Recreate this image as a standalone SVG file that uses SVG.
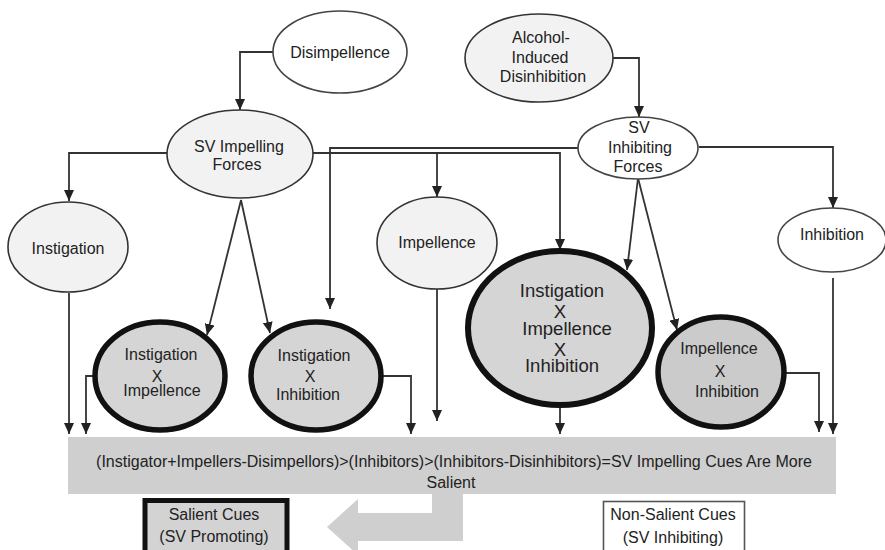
<svg xmlns="http://www.w3.org/2000/svg" width="885" height="550" viewBox="0 0 885 550">
<defs>
<style>
.lt{fill:#f2f2f2;stroke:#333;stroke-width:1.6}
.wh{fill:#ffffff;stroke:#444;stroke-width:1.6}
.bold{fill:#d5d5d5;stroke:#111;stroke-width:5.5}
.bold2{fill:#cbcbcb;stroke:#111;stroke-width:5.5}
text{font-family:"Liberation Sans",Arial,sans-serif;font-size:16px;fill:#222;text-anchor:middle}
.big{font-size:18.5px}
.c{fill:none;stroke:#333;stroke-width:1.8;marker-end:url(#ah)}
.n{fill:none;stroke:#333;stroke-width:1.8}
</style>
<marker id="ah" markerUnits="userSpaceOnUse" markerWidth="12" markerHeight="10" refX="11" refY="5" orient="auto">
<path d="M0,0 L11,5 L0,10 z" fill="#222"/>
</marker>
</defs>
<rect width="885" height="550" fill="#ffffff"/>

<g id="connectors">
<path class="c" d="M273,52 H240 V110"/>
<path class="c" d="M167,153 H69 V201"/>
<path class="c" d="M69,293 V434"/>
<path class="c" d="M95,376 H86 V434"/>
<path class="c" d="M241,200 L207,335"/>
<path class="c" d="M241,200 L270,333"/>
<path class="c" d="M381,376 H411 V434"/>
<path class="c" d="M313,153 H560 V250"/>
<path class="c" d="M437,153 V197"/>
<path class="c" d="M578,148 H330 V309"/>
<path class="c" d="M437,289 V421"/>
<path class="c" d="M613,58 H639 V117"/>
<path class="c" d="M638,178 L627,270"/>
<path class="c" d="M638,178 L677,330"/>
<path class="c" d="M699,147 H833 V208"/>
<path class="c" d="M833,278 V434"/>
<path class="c" d="M560,407 V434"/>
<path class="c" d="M785,373 H819 V432"/>
</g>

<g id="disimpellence">
<ellipse class="wh" cx="340" cy="52" rx="67" ry="41"/>
<text x="340" y="58">Disimpellence</text>
</g>

<g id="alcohol">
<ellipse class="lt" cx="539" cy="58" rx="74" ry="44"/>
<text x="541" y="43">Alcohol-</text>
<text x="540" y="63">Induced</text>
<text x="543" y="82">Disinhibition</text>
</g>

<g id="sv-impelling">
<ellipse class="lt" cx="240" cy="154" rx="73" ry="44"/>
<text x="239" y="152">SV Impelling</text>
<text x="237" y="170">Forces</text>
</g>

<g id="sv-inhibiting">
<ellipse class="wh" cx="638" cy="148" rx="60" ry="31"/>
<text x="639" y="133">SV</text>
<text x="640" y="153">Inhibiting</text>
<text x="638" y="172">Forces</text>
</g>

<g id="instigation">
<ellipse class="lt" cx="68" cy="247" rx="60" ry="45"/>
<text x="68" y="254">Instigation</text>
</g>

<g id="impellence">
<ellipse class="lt" cx="437" cy="243" rx="60" ry="46"/>
<text x="437" y="248">Impellence</text>
</g>

<g id="inhibition">
<ellipse class="wh" cx="832" cy="240" rx="54" ry="32"/>
<text x="832" y="240">Inhibition</text>
</g>

<g id="instigation-x-impellence">
<ellipse class="bold" cx="160" cy="376" rx="65" ry="54"/>
<text x="161" y="360">Instigation</text>
<text x="157" y="382">X</text>
<text x="162" y="396">Impellence</text>
</g>

<g id="instigation-x-inhibition">
<ellipse class="bold" cx="316" cy="376" rx="65" ry="54"/>
<text x="314" y="361">Instigation</text>
<text x="310" y="382">X</text>
<text x="308" y="400">Inhibition</text>
</g>

<g id="instigation-x-impellence-x-inhibition">
<ellipse class="bold" cx="560" cy="328" rx="92" ry="77" style="stroke-width:6"/>
<text class="big" x="562" y="297">Instigation</text>
<text class="big" x="560" y="318">X</text>
<text class="big" x="567" y="335">Impellence</text>
<text class="big" x="560" y="356">X</text>
<text class="big" x="562" y="372">Inhibition</text>
</g>

<g id="impellence-x-inhibition">
<ellipse class="bold2" cx="721" cy="372" rx="63" ry="55"/>
<text x="719" y="354">Impellence</text>
<text x="720" y="377">X</text>
<text x="727" y="397">Inhibition</text>
</g>

<g id="equation">
<rect x="68" y="437" width="768" height="57" fill="#cfcfcf"/>
<text x="454" y="467">(Instigator+Impellers-Disimpellors)&gt;(Inhibitors)&gt;(Inhibitors-Disinhibitors)=SV Impelling Cues Are More</text>
<text x="451" y="488">Salient</text>
</g>

<g id="big-arrow">
<polygon points="432,493 463,493 463,541 358,541 358,555 327,527 358,499 358,513 432,513" fill="#cfcfcf"/>
</g>

<g id="salient-cues">
<rect x="145" y="500.5" width="142" height="60" fill="#d3d3d3" stroke="#111" stroke-width="5"/>
<text x="214" y="520">Salient Cues</text>
<text x="214" y="542">(SV Promoting)</text>
</g>

<g id="non-salient-cues">
<rect x="603.5" y="501.5" width="141" height="60" fill="#ffffff" stroke="#555" stroke-width="1.6"/>
<text x="673" y="520">Non-Salient Cues</text>
<text x="673" y="543">(SV Inhibiting)</text>
</g>
</svg>
